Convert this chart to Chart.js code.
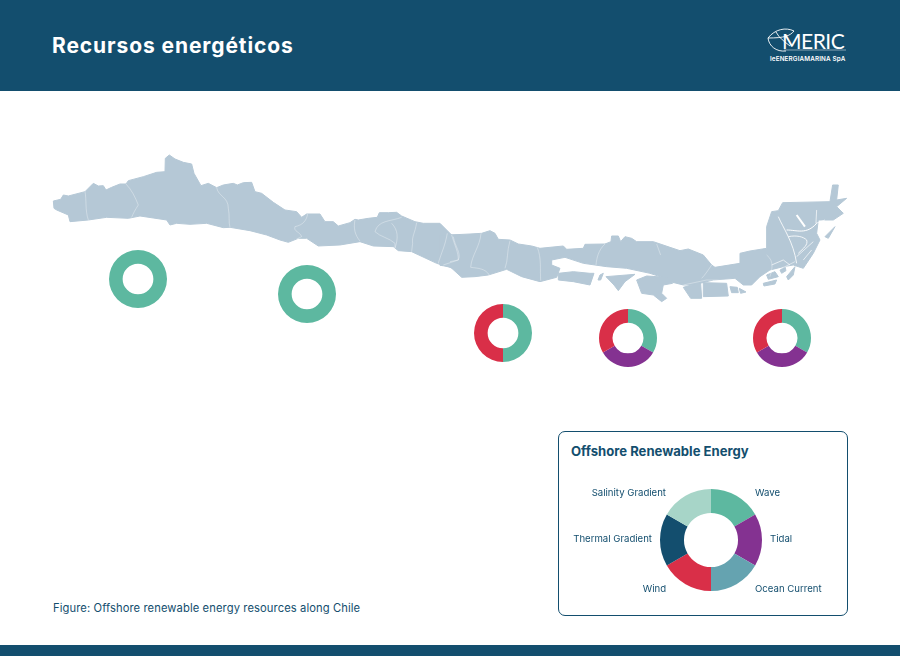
<!DOCTYPE html>
<html lang="es">
<head>
<meta charset="utf-8">
<title>Recursos energéticos</title>
<script src="https://cdn.jsdelivr.net/npm/chart.js@4"></script>
<style>
  html, body { margin: 0; padding: 0; background: #fff; }
  body { position: relative; width: 900px; height: 656px; overflow: hidden; font-family: Inter, "Open Sans", sans-serif; color: #134e6e; }
  .abs { position: absolute; white-space: nowrap; }
  #header { left: 0; top: 0; width: 900px; height: 91px; background: #134e6e; }
  #footer { left: 0; top: 645px; width: 900px; height: 11px; background: #134e6e; }
  #title { left: 52px; top: 33px; font-size: 21px; line-height: 26px; font-weight: 700; color: #fff; letter-spacing: 0.9px; }
  #logoName { left: 782px; top: 27px; font-family: Lato, sans-serif; font-size: 21px; line-height: 28px; font-weight: 400; color: #fff; letter-spacing: -0.5px; }
  #logoSub { left: 770px; top: 54px; font-size: 6.3px; line-height: 10px; font-weight: 600; color: #fff; letter-spacing: 0.15px; }
  #card { left: 558px; top: 431px; width: 288px; height: 183px; border: 1.5px solid #134e6e; border-radius: 7px; }
  #cardTitle { left: 571px; top: 442px; font-size: 13.1px; line-height: 18px; font-weight: 700; }
  #caption { left: 53px; top: 600px; font-size: 11.2px; line-height: 16px; letter-spacing: 0.1px; }
  svg { position: absolute; left: 0; top: 0; }
  canvas { position: absolute; }
</style>
</head>
<body>
<div class="abs" id="header"></div>
<div class="abs" id="footer"></div>
<div class="abs" id="title">Recursos energéticos</div>

<svg width="900" height="656" viewBox="0 0 900 656">
  <!-- logo -->
  <g fill="none" stroke="#fff" stroke-width="0.9">
    <path d="M768 38 C775 29 786 27 794 31 C790 36 784 38 768 38 C769 46 776 52 786 51"/>
    <path d="M776 32 C779 38 785 42 790 46"/>
    <path d="M784 50 H846" stroke-width="0.5"/>
  </g>
  <!-- mapa, trazado sobre un recorte 3x -->
  <g fill="#b5c8d6" stroke="#b5c8d6" stroke-width="3" stroke-linejoin="round" transform="translate(40 140) scale(0.3333)">
    <path d="M40 183 L62 178 70 165 85 168 135 155 160 130 175 138 190 137 198 150 215 142 240 132 258 132 265 122 310 110 350 97 375 95 376 55 388 45 405 57 430 67 455 72 462 100 483 137 505 130 530 143 550 135 580 130 592 135 610 128 635 127 645 155 665 160 700 187 735 210 770 215 785 232 800 222 840 222 855 245 880 245 895 258 930 248 945 238 955 240 985 235 1012 232 1018 218 1045 218 1070 217 1085 228 1125 245 1150 250 1200 250 1235 285 1262 285 1262 392 1190 370 1115 335 1075 332 1060 320 1000 318 960 305 900 315 835 318 800 295 775 295 745 307 720 300 680 285 630 272 570 262 550 263 500 250 450 253 410 250 390 255 380 240 300 228 265 235 200 232 145 240 90 245 85 225 50 210 42 205 Z"/>
  </g>
  <g fill="#b5c8d6" stroke="#b5c8d6" stroke-width="3" stroke-linejoin="round" transform="translate(450 170) scale(0.3333)">
    <path d="M-30 195 L0 195 60 192 95 190 120 182 135 190 145 208 180 210 205 222 245 228 270 235 340 228 350 238 400 235 405 223 465 222 483 215 485 198 505 198 512 215 525 200 545 205 560 215 610 215 660 232 690 242 715 237 760 255 785 285 795 292 870 280 870 250 900 243 950 235 950 170 965 125 985 122 998 98 1140 95 1148 45 1165 45 1160 90 1190 85 1160 110 1180 130 1150 150 1105 150 1100 190 1110 210 1090 250 1060 295 1045 290 1030 285 1000 290 960 300 930 320 905 345 880 345 855 325 790 330 730 345 700 345 660 335 645 325 600 310 530 295 470 290 400 280 345 262 305 270 305 285 330 295 320 322 270 335 215 320 170 298 115 315 75 320 35 322 0 290 -30 286 Z"/>
    <path d="M325 310 L370 305 420 310 432 310 420 345 370 335 325 330 Z"/>
    <path d="M450 315 L460 310 452 330 444 330 Z"/>
    <path d="M468 320 L555 313 525 335 505 362 492 345 Z"/>
    <path d="M560 330 L590 318 650 322 668 340 640 345 635 370 650 385 635 395 610 375 575 370 Z"/>
    <path d="M700 352 L725 345 752 340 755 385 722 385 Z"/>
    <path d="M760 338 L830 340 835 378 760 380 Z"/>
    <path d="M840 350 L862 352 865 368 845 368 Z"/>
    <path d="M868 355 L888 366 872 370 Z"/>
    <path d="M940 340 L980 330 975 342 942 348 Z"/>
    <path d="M950 315 L975 305 985 320 955 328 Z"/>
    <path d="M990 300 L1005 290 1008 302 995 310 Z"/>
    <path d="M1010 320 L1035 290 1030 315 1015 330 Z"/>
    <path d="M1125 200 L1155 170 1135 205 Z"/>
  </g>
  <!-- límites y canales -->
  <g fill="none" stroke="#fff" stroke-width="1" transform="translate(40 140) scale(0.3333)">
    <path d="M135 155 C140 180 135 210 145 240"/>
    <path d="M258 132 C275 150 285 170 295 195 C285 210 280 220 275 232"/>
    <path d="M530 143 C535 170 565 170 565 205 C570 230 565 245 570 262"/>
    <path d="M803 222 C800 240 790 255 765 260 C760 275 780 275 785 290 L770 297"/>
    <path d="M945 240 C940 265 945 285 960 303"/>
    <path d="M1085 232 C1050 245 1015 240 1005 275 C1020 290 1050 295 1065 310 L1065 325"/>
    <path d="M1055 250 C1075 270 1075 295 1065 325"/>
    <path d="M1130 248 C1125 280 1115 290 1118 310 L1115 335"/>
    <path d="M1222 280 C1215 320 1205 335 1195 370"/>
    <path d="M1240 290 C1245 320 1265 340 1255 360 L1210 375"/>
  </g>
  <g fill="none" stroke="#fff" stroke-width="1" transform="translate(450 170) scale(0.3333)">
    <path d="M5 195 C15 230 25 245 25 270 L0 275"/>
    <path d="M93 190 C90 230 65 255 62 292 C85 295 105 295 118 315"/>
    <path d="M180 212 C170 245 175 270 165 295"/>
    <path d="M262 232 C275 265 270 300 272 332"/>
    <path d="M465 222 C445 240 440 265 438 285"/>
    <path d="M785 285 C775 300 765 315 755 325"/>
    <path d="M620 222 L632 255"/>
    <path d="M700 345 L770 330 860 332"/>
    <path d="M950 255 C975 275 965 300 960 320"/>
    <path d="M985 140 C1000 175 1030 215 1040 280" stroke-width="2.5"/>
    <path d="M1010 180 C1040 180 1070 195 1100 160" stroke-width="3"/>
    <path d="M1040 135 L1065 170" stroke-width="6"/>
    <path d="M1040 260 L1090 215" stroke-width="2"/>
    <path d="M1015 200 C1040 195 1060 200 1070 210 C1075 225 1060 235 1045 250" stroke-width="2.5"/>
    <path d="M1100 120 L1098 160 L1125 150" stroke-width="2"/>
    <path d="M1060 270 L1085 240" stroke-width="2"/>
    <path d="M965 285 L1000 270 L1020 285" stroke-width="2"/>
    <path d="M985 300 L1035 275" stroke-width="1.5"/>
  </g>
</svg>

<div class="abs" id="logoName">MERIC</div>
<div class="abs" id="logoSub">leENERGIAMARINA SpA</div>
<div class="abs" id="card"></div>
<div class="abs" id="cardTitle">Offshore Renewable Energy</div>
<div class="abs" id="caption">Figure: Offshore renewable energy resources along Chile</div>

<canvas id="siteA" style="left:109px;top:250px"></canvas>
<canvas id="siteB" style="left:278px;top:265px"></canvas>
<canvas id="siteC" style="left:474px;top:304px"></canvas>
<canvas id="siteD" style="left:599px;top:309px"></canvas>
<canvas id="siteE" style="left:753px;top:309px"></canvas>
<canvas id="legendChart" style="left:566px;top:470px"></canvas>

<script>
// tipos de recurso, en el orden del anillo de la leyenda
var categories = ["Wave", "Tidal", "Ocean Current", "Wind", "Thermal Gradient", "Salinity Gradient"];
var categoryColors = ['#5db8a0', '#843291', '#65a3b0', '#d92f48', '#134e6e', '#a7d5c8'];

var legendValues = [1, 1, 1, 1, 1, 1];
var siteAValues = [1, 0, 0, 0, 0, 0];
var siteBValues = [1, 0, 0, 0, 0, 0];
var siteCValues = [1, 0, 0, 1, 0, 0];
var siteDValues = [1, 1, 0, 1, 0, 0];
var siteEValues = [1, 1, 0, 1, 0, 0];

function donut(id, values, width, height, padding, plugins) {
    var canvas = document.getElementById(id);
    canvas.style.width = width + 'px';
    canvas.style.height = height + 'px';
    canvas.width = width;
    canvas.height = height;
    return new Chart(canvas, {
        type: 'doughnut',
        data: {
            labels: categories,
            datasets: [{
                data: values,
                backgroundColor: categoryColors,
                borderWidth: 0
            }]
        },
        options: {
            responsive: false,
            animation: false,
            cutout: '53%',
            layout: { padding: padding },
            plugins: {
                legend: { display: false },
                tooltip: { enabled: false }
            }
        },
        plugins: plugins || []
    });
}

donut('siteA', siteAValues, 58, 58, 0);
donut('siteB', siteBValues, 58, 58, 0);
donut('siteC', siteCValues, 58, 58, 0);
donut('siteD', siteDValues, 58, 58, 0);
donut('siteE', siteEValues, 58, 58, 0);

// etiquetas alrededor del anillo
var labelOffsets = [[44, -47], [59, -1], [44, 49], [-45, 49], [-59, -1], [-45, -47]];
var ringLabels = {
    id: 'ringLabels',
    afterDraw: function(chart) {
        var ctx = chart.ctx;
        var arcs = chart.getDatasetMeta(0).data;
        ctx.save();
        ctx.font = '9.6px Inter, sans-serif';
        ctx.fillStyle = '#134e6e';
        ctx.textBaseline = 'middle';
        arcs.forEach(function(arc, i) {
            ctx.textAlign = labelOffsets[i][0] > 0 ? 'left' : 'right';
            ctx.fillText(categories[i], arc.x + labelOffsets[i][0], arc.y + labelOffsets[i][1]);
        });
        ctx.restore();
    }
};
donut('legendChart', legendValues, 290, 140, 19, [ringLabels]);
</script>
</body>
</html>
